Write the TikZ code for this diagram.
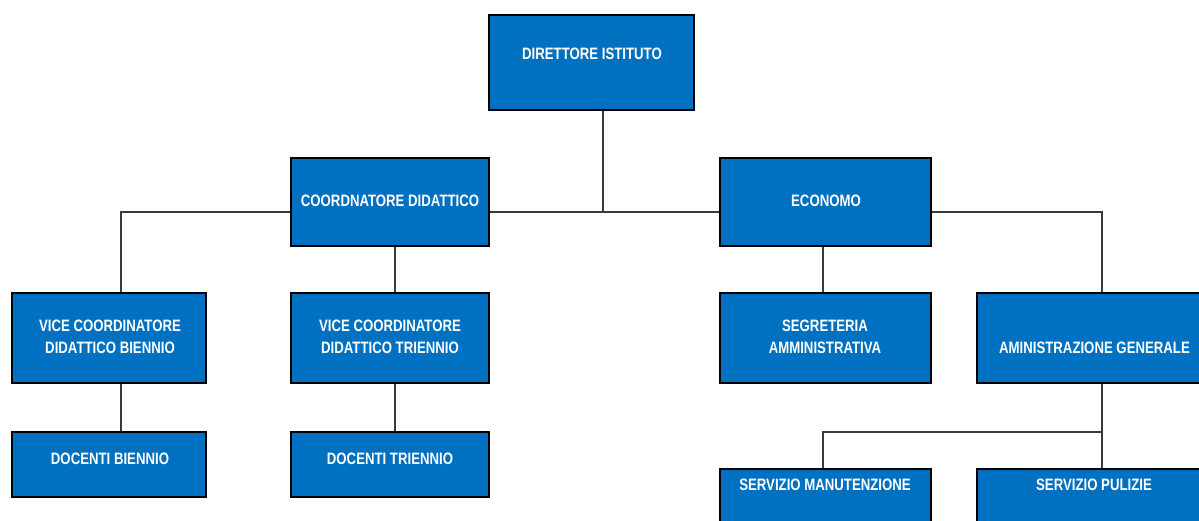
\documentclass[tikz,border=0pt]{standalone}
\usepackage{fontspec}
\setmainfont{Liberation Sans}[FakeStretch=0.80]
\usetikzlibrary{calc}
\definecolor{boxblue}{HTML}{0070C0}
\definecolor{linegray}{HTML}{3A3A3A}
\tikzset{
  orgbox/.style={draw=black, line width=1.1pt, fill=boxblue, rectangle, inner sep=0pt},
  orgtxt/.style={text=white, font=\fontsize{16.5}{22}\selectfont\bfseries, align=center, inner sep=0pt},
  conn/.style={draw=linegray, line width=1.1pt}
}
\newcommand{\obox}[5]{% name, x1, y1, x2, y2
  \node[orgbox, minimum width={(#4-#2)*1pt}, minimum height={(#5-#3)*1pt}] (#1) at ({(#2+#4)/2},{(#3+#5)/2}) {};}
\begin{document}
\begin{tikzpicture}[x=1pt,y=-1pt]
\useasboundingbox (0,0) rectangle (1199,521);
\clip (0,0) rectangle (1199,521);
% boxes
\obox{dir}{489}{15}{694}{110}
\obox{coord}{291}{158}{489}{246}
\obox{eco}{720}{158}{931}{246}
\obox{vcb}{12}{293}{206}{383}
\obox{vct}{291}{293}{489}{383}
\obox{db}{12}{432}{206}{497}
\obox{dt}{291}{432}{489}{497}
\obox{seg}{720}{293}{931}{383}
\obox{amm}{977}{293}{1227}{383}
\obox{man}{720}{469}{931}{545}
\obox{pul}{977}{469}{1227}{545}
% texts
\node[orgtxt] (tdir) at (592,54) {DIRETTORE ISTITUTO};
\node[orgtxt] (tcoord) at (390,201) {COORDNATORE DIDATTICO};
\node[orgtxt] (teco) at (826,201) {ECONOMO};
\node[orgtxt] (tvcb) at (110,337) {VICE COORDINATORE\\DIDATTICO BIENNIO};
\node[orgtxt] (tvct) at (390,337) {VICE COORDINATORE\\DIDATTICO TRIENNIO};
\node[orgtxt] (tdb) at (110,458.5) {DOCENTI BIENNIO};
\node[orgtxt] (tdt) at (390,458.5) {DOCENTI TRIENNIO};
\node[orgtxt] (tseg) at (825,337) {SEGRETERIA\\AMMINISTRATIVA};
\node[orgtxt] (tamm) at (1094.5,348) {AMINISTRAZIONE GENERALE};
\node[orgtxt] (tman) at (825,485) {SERVIZIO MANUTENZIONE};
\node[orgtxt] (tpul) at (1094,485) {SERVIZIO PULIZIE};
% connector coordinates
\coordinate (bus) at (0,212);
\coordinate (dirx) at (603,0);
\coordinate (vbx) at (121,0);
\coordinate (vtx) at (395,0);
\coordinate (sgx) at (823,0);
\coordinate (amx) at (1102,0);
\coordinate (bus2) at (0,432);
% connectors
\draw[conn] (dirx |- dir.south) -- (dirx |- bus);
\draw[conn] (coord.east |- bus) -- (eco.west |- bus);
\draw[conn] (coord.west |- bus) -| (vbx |- vcb.north);
\draw[conn] (eco.east |- bus) -| (amx |- amm.north);
\draw[conn] (vtx |- coord.south) -- (vtx |- vct.north);
\draw[conn] (vbx |- vcb.south) -- (vbx |- db.north);
\draw[conn] (vtx |- vct.south) -- (vtx |- dt.north);
\draw[conn] (sgx |- eco.south) -- (sgx |- seg.north);
\draw[conn] (amx |- amm.south) -- (amx |- pul.north);
\draw[conn] (amx |- bus2) -| (sgx |- man.north);
\end{tikzpicture}
\end{document}
